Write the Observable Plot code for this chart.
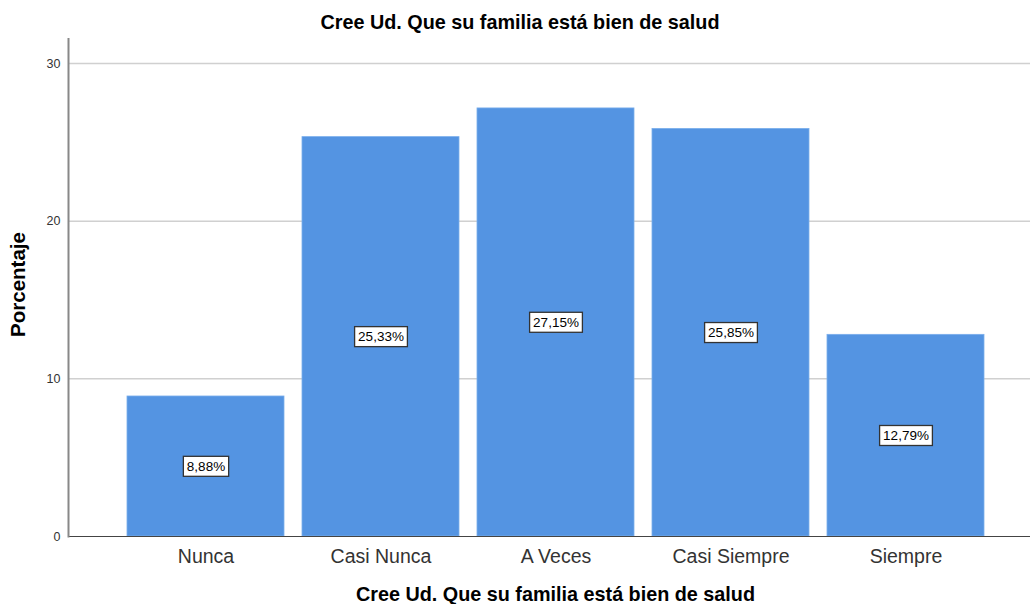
<!DOCTYPE html>
<html>
<head>
<meta charset="utf-8">
<script src="https://cdn.jsdelivr.net/npm/d3@7"></script>
<script src="https://cdn.jsdelivr.net/npm/@observablehq/plot@0.6"></script>
<style>
  html, body { margin: 0; padding: 0; background: #fff; }
  #title { width: 1030px; height: 38px; box-sizing: border-box; padding-top: 10px; padding-left: 10px;
    text-align: center; font: bold 19.8px "Liberation Sans", Arial, sans-serif; line-height: 24px; color: #000; }
  svg { display: block; }
</style>
</head>
<body>
<div id="title">Cree Ud. Que su familia está bien de salud</div>
<div id="chart"></div>
<script>
const categories = ["Nunca", "Casi Nunca", "A Veces", "Casi Siempre", "Siempre"];
const percentages = [8.88, 25.33, 27.15, 25.85, 12.79];
const labels = ["8,88%", "25,33%", "27,15%", "25,85%", "12,79%"];
const yTicks = [0, 10, 20, 30];
const xTitle = "Cree Ud. Que su familia está bien de salud";
const yTitle = "Porcentaje";

const data = categories.map((c, i) => ({cat: c, pct: percentages[i], label: labels[i]}));
const font = '"Liberation Sans", Arial, sans-serif';

const chart = Plot.plot({
  width: 1030,
  height: 566,
  marginLeft: 68,
  marginRight: 0,
  marginTop: 0,
  marginBottom: 68,
  style: {fontFamily: font, background: "#fff"},
  x: {domain: categories, paddingInner: 0.104, paddingOuter: 0.2965, align: 0.558, label: null},
  y: {domain: [0, 30], range: [498, 25], label: null},
  marks: [
    Plot.ruleY(yTicks.filter(d => d > 0), {stroke: "#d0d0d0", strokeWidth: 1.5}),
    Plot.barY(data, {x: "cat", y: "pct", fill: "#5494e2", stroke: "#7aaeec", strokeWidth: 0.8}),
    Plot.ruleY([0], {stroke: "#444", strokeWidth: 1}),
    Plot.frame({anchor: "left", stroke: "#888", strokeWidth: 2}),
    Plot.axisY({ticks: yTicks, tickSize: 0, tickPadding: 8, fontSize: 12.5, fill: "#333", label: null}),
    Plot.axisX({tickSize: 0, tickPadding: 13, fontSize: 19.5, fill: "#333", label: null}),
    Plot.text(data, {x: "cat", y: d => d.pct / 2, text: "label", fontSize: 13.5, fill: "#000"}),
    Plot.text([xTitle], {frameAnchor: "bottom", dy: 64, dx: 6, fontSize: 19.8, fontWeight: "bold", fill: "#000"}),
    Plot.text([yTitle], {frameAnchor: "left", textAnchor: "middle", dx: -50, dy: -3, rotate: -90, fontSize: 20.5, fontWeight: "bold", fill: "#000"})
  ]
});
document.getElementById("chart").appendChild(chart);

// Draw boxes behind the value labels (the first text mark)
const textGroups = chart.querySelectorAll('g[aria-label="text"]');
const labelGroup = textGroups[0];
if (labelGroup) {
  labelGroup.querySelectorAll("text").forEach(t => {
    const b = t.getBBox();
    const ns = "http://www.w3.org/2000/svg";
    const r = document.createElementNS(ns, "rect");
    const h = 20;
    const cy = b.y + b.height / 2;
    r.setAttribute("x", b.x - 3.5);
    r.setAttribute("y", cy - h / 2);
    r.setAttribute("width", b.width + 7);
    r.setAttribute("height", h);
    r.setAttribute("fill", "#fff");
    r.setAttribute("stroke", "#333");
    r.setAttribute("stroke-width", "1.3");
    const tr = t.getAttribute("transform");
    if (tr) r.setAttribute("transform", tr);
    t.parentNode.insertBefore(r, t);
  });
}
</script>
</body>
</html>
